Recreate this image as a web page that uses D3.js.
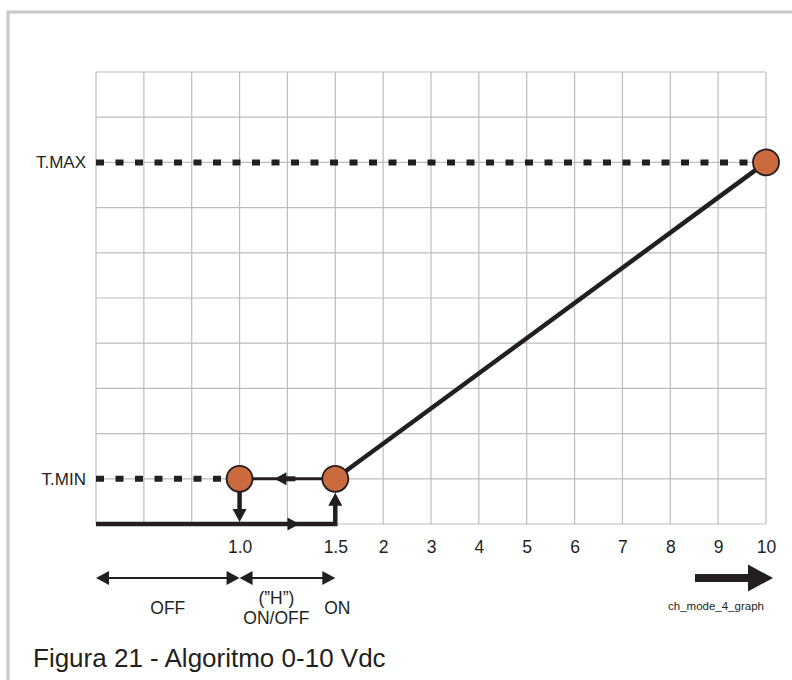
<!DOCTYPE html>
<html><head><meta charset="utf-8">
<script src="https://cdn.jsdelivr.net/npm/d3@7"></script>
<style>
html,body{margin:0;padding:0;background:#fff;}
svg{display:block;font-family:"Liberation Sans",Arial,Helvetica,sans-serif;}
</style></head>
<body>
<svg id="chart" width="792" height="680"></svg>
<script>
// ---- data ----
const tickValues = [1.0, 1.5, 2, 3, 4, 5, 6, 7, 8, 9, 10];
const tickLabels = ["1.0", "1.5", "2", "3", "4", "5", "6", "7", "8", "9", "10"];
const voltBreaks = [0, 1.0, 1.5, 2, 10];      // volts
const voltColumns = [0, 3, 5, 6, 14];          // grid column reached by each break
const gridColumns = d3.range(0, 15);
const gridRows = d3.range(0, 11);
const levelNames = ["T.MIN", "T.MAX"];
const levelRows = [1, 8];
const pointVolts = [1.0, 1.5, 10];
const pointLevels = ["T.MIN", "T.MIN", "T.MAX"];
const rampVolts = [1.5, 10];
const rampLevels = ["T.MIN", "T.MAX"];
const zoneFrom = [0, 1.0];
const zoneTo = [1.0, 1.5];
const zoneLabels = [["OFF"], ["(\u201DH\u201D)", "ON/OFF"]];
const onLabel = "ON";
const caption = "Figura 21 - Algoritmo 0-10 Vdc";
const codeLabel = "ch_mode_4_graph";

(function () {
// ---- scales ----
const svg = d3.select("#chart");
const pL = 96, pR = 766, pT = 72, pB = 524;
const colX = d3.scaleLinear().domain([0, 14]).range([pL, pR]);
const x = d3.scaleLinear().domain(voltBreaks).range(voltColumns.map(c => colX(c)));
const rowY = d3.scaleLinear().domain([0, 10]).range([pB, pT]);
const levelY = name => rowY(levelRows[levelNames.indexOf(name)]);
const ink = "#231f20";
const R = 13;

// border
svg.append("path").attr("d", "M8,700 L8,12 L800,12")
  .attr("fill", "none").attr("stroke", "#c8c8c8").attr("stroke-width", 3);

// grid
const grid = svg.append("g").attr("stroke", "#bcbcbc").attr("stroke-width", 1.2);
grid.selectAll(".v").data(gridColumns).join("line").attr("class", "v")
  .attr("x1", d => colX(d)).attr("x2", d => colX(d)).attr("y1", pT).attr("y2", pB);
grid.selectAll(".h").data(gridRows).join("line").attr("class", "h")
  .attr("y1", d => rowY(d)).attr("y2", d => rowY(d)).attr("x1", pL).attr("x2", pR);

// x axis labels
const axis = d3.axisBottom(x).tickValues(tickValues).tickSize(0).tickPadding(0)
  .tickFormat((d, i) => tickLabels[i]);
const ag = svg.append("g").attr("transform", `translate(0,${pB})`).call(axis);
ag.select(".domain").remove();
ag.selectAll("text").attr("font-size", 17.5).attr("fill", ink)
  .attr("font-family", "'Liberation Sans',Arial,sans-serif").attr("dy", null).attr("y", 28.5);

// level labels
svg.selectAll(".lvl").data(levelNames).join("text").attr("class", "lvl")
  .attr("x", 86).attr("y", d => levelY(d) + 6).attr("text-anchor", "end")
  .attr("font-size", 17).attr("fill", ink).text(d => d);

// dotted level lines
const dotted = [[0, pointVolts[0], "T.MIN"], [0, 10, "T.MAX"]];
svg.selectAll(".dot").data(dotted).join("line").attr("class", "dot")
  .attr("x1", d => x(d[0])).attr("x2", d => x(d[1]) - R)
  .attr("y1", d => levelY(d[2])).attr("y2", d => levelY(d[2]))
  .attr("stroke", ink).attr("stroke-width", 6).attr("stroke-dasharray", "8 11.5");

// ramp
svg.append("line")
  .attr("x1", x(rampVolts[0])).attr("y1", levelY(rampLevels[0]))
  .attr("x2", x(rampVolts[1])).attr("y2", levelY(rampLevels[1]))
  .attr("stroke", ink).attr("stroke-width", 4.5);

// hysteresis path
const yMin = levelY("T.MIN");
const x10 = x(1.0), x15 = x(1.5), xMid = x(1.25);
svg.append("path")
  .attr("d", `M${x(0)},${pB} L${x15},${pB} L${x15},${yMin + R + 10}`)
  .attr("fill", "none").attr("stroke", ink).attr("stroke-width", 4.5);
svg.append("line").attr("x1", x10).attr("x2", x15).attr("y1", yMin).attr("y2", yMin)
  .attr("stroke", ink).attr("stroke-width", 3);
svg.append("line").attr("x1", xMid - 2).attr("x2", xMid + 8).attr("y1", yMin).attr("y2", yMin)
  .attr("stroke", ink).attr("stroke-width", 5);
svg.append("line").attr("x1", x10).attr("x2", x10).attr("y1", yMin + R).attr("y2", pB - 10)
  .attr("stroke", ink).attr("stroke-width", 4.5);

function tri(tx, ty, dir, len, half) {
  let p;
  if (dir === "r") p = [[tx, ty], [tx - len, ty - half], [tx - len, ty + half]];
  if (dir === "l") p = [[tx, ty], [tx + len, ty - half], [tx + len, ty + half]];
  if (dir === "u") p = [[tx, ty], [tx - half, ty + len], [tx + half, ty + len]];
  if (dir === "d") p = [[tx, ty], [tx - half, ty - len], [tx + half, ty - len]];
  return "M" + p.map(q => q.join(",")).join("L") + "Z";
}
const heads = [
  [xMid + 12, pB, "r", 12, 6.5],
  [xMid - 13, yMin, "l", 12, 6.5],
  [x10, pB - 2, "d", 13, 7],
  [x15, yMin + R + 1, "u", 13, 7]
];
svg.selectAll(".hd").data(heads).join("path").attr("class", "hd")
  .attr("d", d => tri(...d)).attr("fill", ink);

// points
svg.selectAll(".pt").data(pointVolts).join("circle").attr("class", "pt")
  .attr("cx", d => x(d)).attr("cy", (d, i) => levelY(pointLevels[i])).attr("r", R)
  .attr("fill", "#cb6a3f").attr("stroke", ink).attr("stroke-width", 1.8);

// zone double arrows
const zy = 578;
zoneFrom.forEach((f, i) => {
  const a = x(f), b = x(zoneTo[i]);
  svg.append("line").attr("x1", a + 6).attr("x2", b - 6).attr("y1", zy).attr("y2", zy)
    .attr("stroke", ink).attr("stroke-width", 2);
  svg.append("path").attr("d", tri(a, zy, "l", 13, 7)).attr("fill", ink);
  svg.append("path").attr("d", tri(b, zy, "r", 13, 7)).attr("fill", ink);
  const lines = zoneLabels[i];
  const cx = lines.length === 1 ? (a + b) / 2 : a + (b - a) * 0.385;
  lines.forEach((t, j) => {
    svg.append("text").attr("x", cx).attr("text-anchor", "middle")
      .attr("y", lines.length === 1 ? 614 : 603.5 + j * 20)
      .attr("font-size", 17.5).attr("fill", ink).text(t);
  });
});
svg.append("text").attr("x", x(1.5) + 2).attr("y", 614).attr("text-anchor", "middle")
  .attr("font-size", 17.5).attr("fill", ink).text(onLabel);

// big arrow
const ay = 578;
svg.append("path")
  .attr("d", `M695,${ay - 4} L748,${ay - 4} L748,${ay - 13.5} L773,${ay} L748,${ay + 13.5} L748,${ay + 4} L695,${ay + 4} Z`)
  .attr("fill", ink);
svg.append("text").attr("x", 716).attr("y", 610).attr("text-anchor", "middle")
  .attr("font-size", 11.5).attr("fill", ink).text(codeLabel);

// caption
svg.append("text").attr("x", 33).attr("y", 667).attr("font-size", 26)
  .attr("fill", ink).text(caption);
})();
</script>
</body></html>
